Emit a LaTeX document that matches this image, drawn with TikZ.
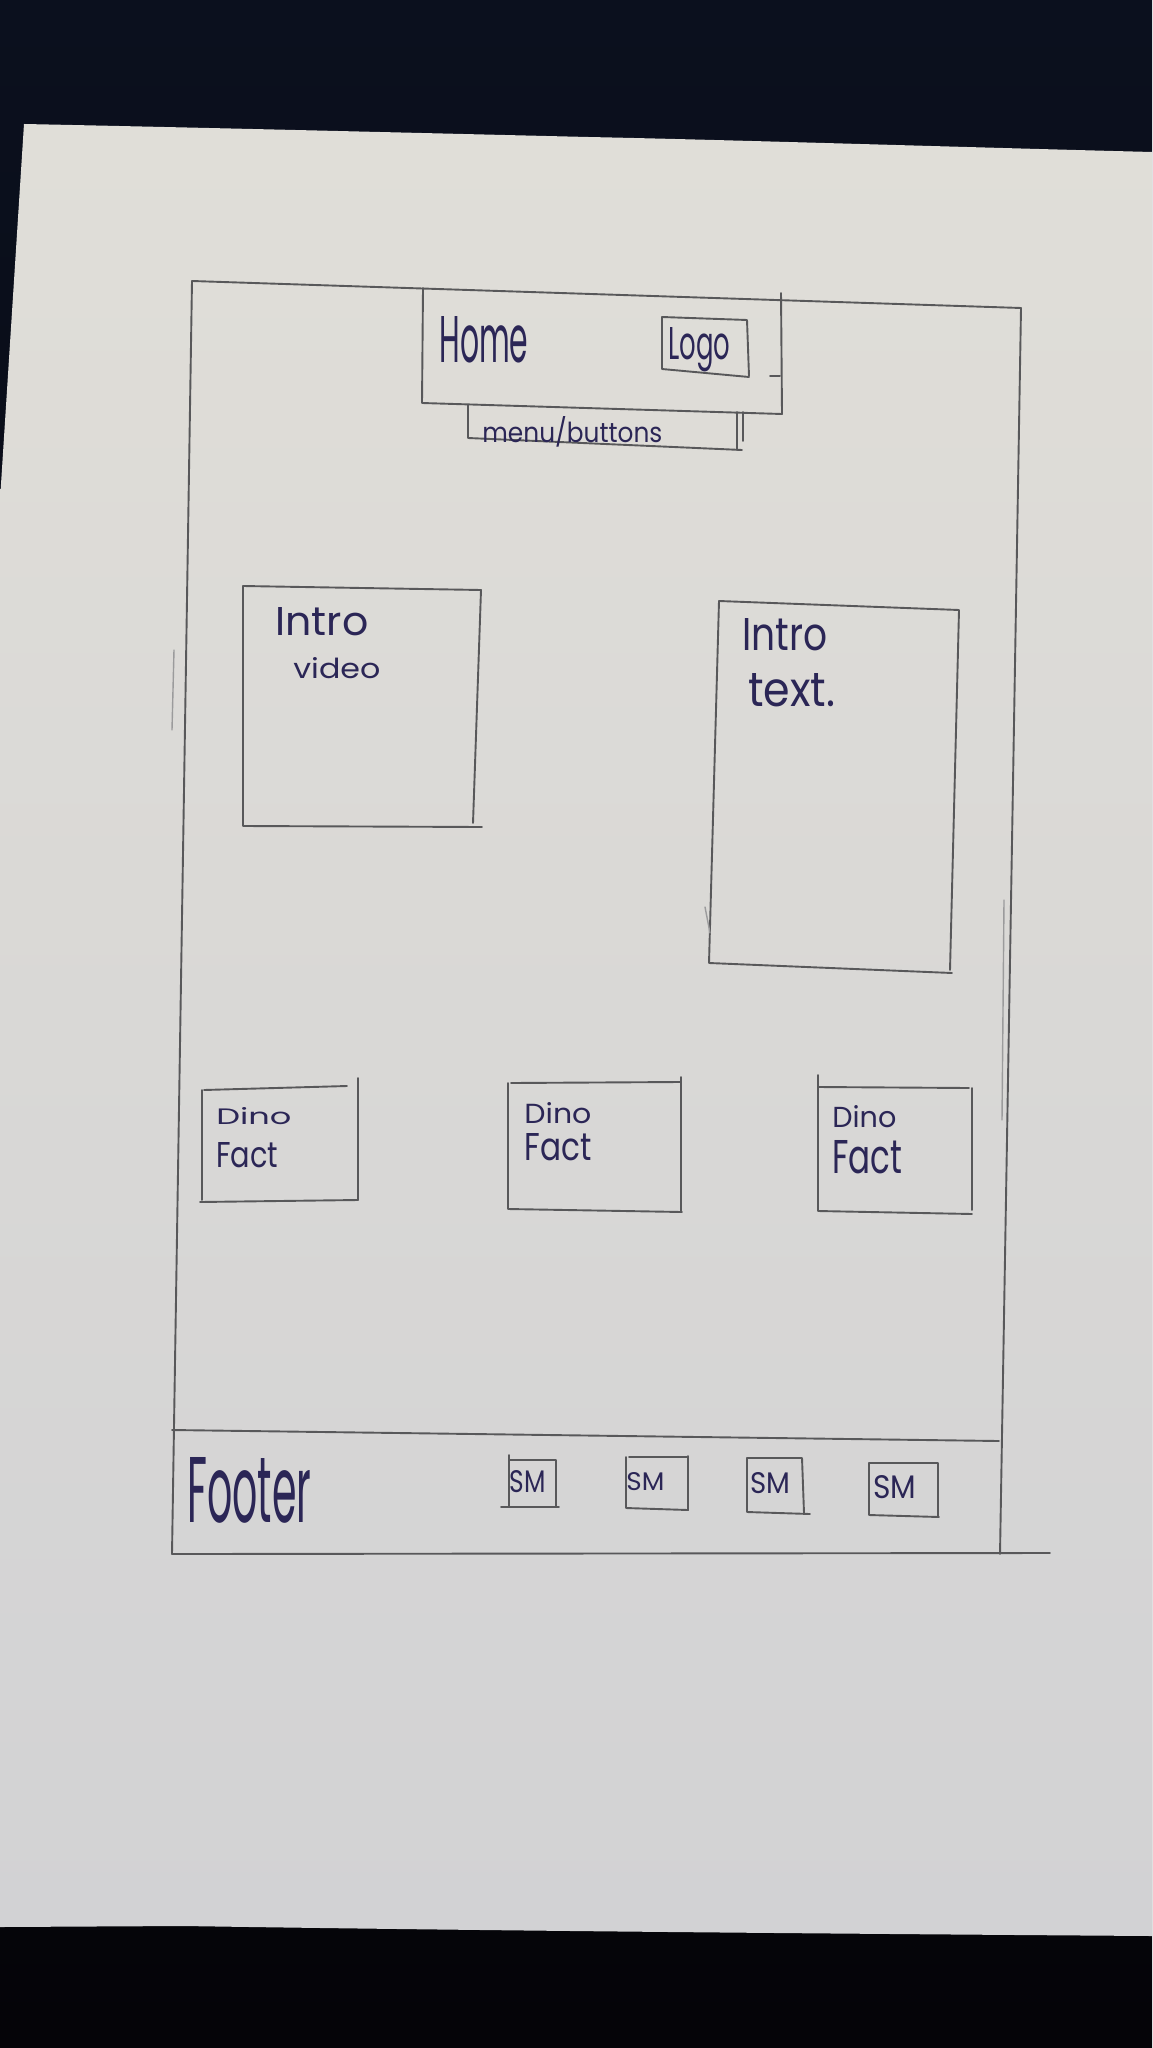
\documentclass[tikz,border=0pt]{standalone}
\usepackage{fontspec}
\newfontfamily\handfont{Poppins}
\newlength{\pxu}
\setlength{\pxu}{0.5pt}
% hand lettering fitted to a given width and height (in pixel units)
\newcommand{\handtext}[3]{\resizebox{#1\pxu}{#2\pxu}{\handfont #3}}
\definecolor{deskTop}{HTML}{0B101E}
\definecolor{deskBot}{HTML}{050408}
\definecolor{paperTop}{HTML}{E0DED8}
\definecolor{paperBot}{HTML}{D2D2D4}
\definecolor{pencil}{HTML}{58585A}
\definecolor{ink}{HTML}{2B2656}
\tikzset{
  sketch/.style={draw=pencil, line width=0.95pt, line cap=round, line join=round},
  faint/.style={draw=pencil!60, line width=0.7pt, line cap=round},
  hand/.style={text=ink, inner sep=0pt, anchor=base west},
}
\begin{document}
\begin{tikzpicture}[x=0.5pt, y=-0.5pt]
\useasboundingbox (0,0) rectangle (1152,2048);

% desk behind the sheet
\shade[top color=deskTop, bottom color=deskBot] (0,0) rectangle (1152,2048);

% sheet of paper
\shade[top color=paperTop, bottom color=paperBot]
  (24,124) .. controls (220,128) and (420,133) .. (588,137)
  .. controls (735,140) and (955,147) .. (1152,152)
  -- (1152,1936)
  .. controls (735,1933) and (441,1930) .. (184,1926)
  -- (0,1927) -- (0,500) -- cycle;

% page frame
\draw[sketch] (192,281) -- (1021,308);
\draw[sketch] (192,281) -- (172,1554);
\draw[sketch] (1021,308) -- (1000,1554);
\draw[sketch] (172,1554) -- (1050,1553);
\draw[faint] (1004,900) -- (1002,1120);
\draw[faint] (174,650) -- (172,730);

% footer band
\draw[sketch] (172,1430) -- (999,1441);

% header: home bar, logo and menu
\draw[sketch] (423,288) -- (422,403) -- (782,414) -- (781,293);
\draw[sketch] (662,317) -- (747,320) -- (749,376);
\draw[sketch] (662,317) -- (662,369) -- (749,377);
\draw[sketch] (770,376) -- (780,376);
\draw[sketch] (468,405) -- (468,438) -- (742,450);
\draw[sketch] (737,412) -- (737,450);
\draw[sketch] (743,412) -- (743,441);

% intro video
\draw[sketch] (243,586) -- (481,590) -- (473,823);
\draw[sketch] (243,586) -- (243,826) -- (482,827);

% intro text
\draw[sketch] (719,601) -- (959,610) -- (950,970);
\draw[sketch] (719,601) -- (709,963) -- (952,973);
\draw[faint] (705,907) -- (710,933);

% dino facts
\draw[sketch] (204,1090) -- (347,1086);
\draw[sketch] (358,1078) -- (358,1200);
\draw[sketch] (202,1090) -- (202,1200);
\draw[sketch] (200,1202) -- (358,1200);

\draw[sketch] (511,1083) -- (680,1082);
\draw[sketch] (508,1083) -- (508,1209) -- (682,1212);
\draw[sketch] (681,1077) -- (681,1212);

\draw[sketch] (818,1087) -- (969,1088);
\draw[sketch] (818,1075) -- (818,1211) -- (972,1214);
\draw[sketch] (972,1088) -- (972,1210);

% social media boxes
\draw[sketch] (509,1455) -- (509,1506);
\draw[sketch] (509,1460) -- (556,1460) -- (556,1506);
\draw[sketch] (501,1507) -- (559,1507);

\draw[sketch] (629,1457) -- (687,1457);
\draw[sketch] (626,1457) -- (626,1508) -- (688,1510) -- (688,1456);

\draw[sketch] (747,1458) -- (802,1458) -- (804,1513);
\draw[sketch] (747,1458) -- (747,1512) -- (810,1514);

\draw[sketch] (869,1463) -- (938,1463) -- (938,1517);
\draw[sketch] (869,1463) -- (869,1515) -- (939,1517);

% lettering
\node[hand] (home) at (439,363) {\handtext{89}{46}{Home}};
\node[hand] (logo) at (668,360) {\handtext{62}{32}{Logo}};
\node[hand] (menu) at (482,443) {\handtext{180}{26}{menu/buttons}};

\node[hand] (vidA) at (275,635) {\handtext{93}{28}{Intro}};
\node[hand] (vidB) at (293,678) {\handtext{87}{21}{video}};

\node[hand] (txtA) at (742,650) {\handtext{85}{32}{Intro}};
\node[hand] (txtB) at (748,706) {\handtext{87}{33}{text.}};

\node[hand] (dinoA) at (216,1124) {\handtext{75}{17}{Dino}};
\node[hand] (factA) at (216,1167) {\handtext{62}{25}{Fact}};
\node[hand] (dinoB) at (524,1123) {\handtext{67}{21}{Dino}};
\node[hand] (factB) at (524,1160) {\handtext{67}{27}{Fact}};
\node[hand] (dinoC) at (832,1127) {\handtext{64}{22}{Dino}};
\node[hand] (factC) at (832,1173) {\handtext{70}{33}{Fact}};

\node[hand] (footer) at (187,1522) {\handtext{124}{65}{Footer}};
\node[hand] (smA) at (509,1492) {\handtext{36}{22}{SM}};
\node[hand] (smB) at (626,1490) {\handtext{38}{18}{SM}};
\node[hand] (smC) at (750,1493) {\handtext{40}{21}{SM}};
\node[hand] (smD) at (873,1498) {\handtext{43}{23}{SM}};
\end{tikzpicture}
\end{document}
